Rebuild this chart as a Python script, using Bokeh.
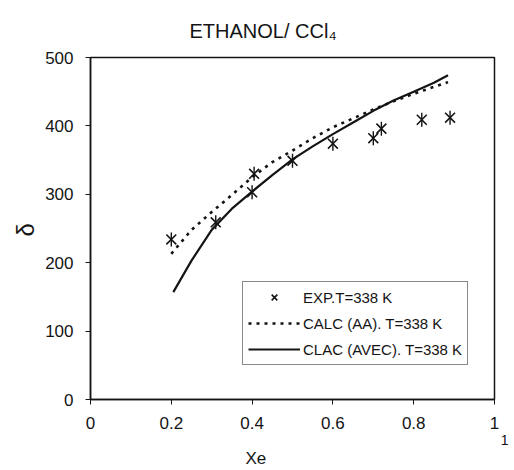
import numpy as np
from bokeh.plotting import figure
from bokeh.models import Legend, LegendItem, FixedTicker, CustomJSTickFormatter, Title
from bokeh.embed import file_html
from bokeh.resources import INLINE

# Experimental points, ethanol / CCl4 at T = 338 K
exp_x = [0.20, 0.31, 0.40, 0.405, 0.50, 0.60, 0.70, 0.72, 0.82, 0.89]
exp_y = [234, 259, 303, 330, 349, 374, 382, 396, 409, 412]

# Calculated curve, AA model
aa_x = [0.20, 0.25, 0.30, 0.35, 0.40, 0.45, 0.50, 0.55, 0.60, 0.65, 0.70, 0.75, 0.80, 0.85, 0.885]
aa_y = [213, 248, 274, 299, 325, 347, 364, 382, 398, 411, 424, 436, 447, 457, 464]

# Calculated curve, AVEC model
avec_x = [0.205, 0.25, 0.30, 0.35, 0.40, 0.45, 0.50, 0.55, 0.60, 0.65, 0.70, 0.75, 0.80, 0.85, 0.885]
avec_y = [157, 203, 248, 279, 304, 328, 351, 370, 388, 405, 422, 437, 450, 463, 474]

x_ticks = [0, 0.2, 0.4, 0.6, 0.8, 1]
y_ticks = [0, 100, 200, 300, 400, 500]

FONT = "Liberation Sans"
INK = "#141414"

p = figure(width=514, height=470, x_range=(0, 1), y_range=(0, 500),
           output_backend="svg", toolbar_location=None,
           min_border_left=90, min_border_right=20,
           min_border_top=57, min_border_bottom=71)
p.grid.visible = False
p.outline_line_color = INK
p.outline_line_width = 1.5
p.background_fill_color = "white"
p.border_fill_color = "white"

for ax in (p.xaxis, p.yaxis):
    ax.axis_line_color = INK
    ax.axis_line_width = 1.5
    ax.major_tick_line_color = INK
    ax.major_tick_out = 5
    ax.major_tick_in = 0
    ax.minor_tick_line_color = None
    ax.major_label_text_font = FONT
    ax.major_label_text_font_size = "17px"
    ax.major_label_text_color = INK

p.xaxis.ticker = FixedTicker(ticks=x_ticks)
p.yaxis.ticker = FixedTicker(ticks=y_ticks)
p.xaxis.formatter = CustomJSTickFormatter(code="return String(tick);")
p.xaxis.major_label_standoff = 12
p.yaxis.major_label_standoff = 12

# curves
r_avec = p.line(avec_x, avec_y, line_color=INK, line_width=2.2)
r_aa = p.line(aa_x, aa_y, line_color=INK, line_width=2.6, line_dash="3 5")
r_exp = p.scatter(exp_x, exp_y, marker="x", size=14, line_color=INK, line_width=1.6)
p.scatter(exp_x, exp_y, marker="dash", angle=np.pi / 2, size=14,
          line_color=INK, line_width=1.4)

legend = Legend(items=[
    LegendItem(label="EXP.T=338 K", renderers=[r_exp]),
    LegendItem(label="CALC (AA). T=338 K", renderers=[r_aa]),
    LegendItem(label="CLAC (AVEC). T=338 K", renderers=[r_avec]),
], location=(152, 34))
legend.label_text_font = FONT
legend.label_text_font_size = "15px"
legend.label_text_color = INK
legend.glyph_width = 52
legend.glyph_height = 20
legend.label_height = 20
legend.label_standoff = 3
legend.spacing = 6
legend.padding = 5
legend.margin = 0
legend.border_line_color = INK
legend.border_line_width = 1.5
legend.background_fill_alpha = 1
p.add_layout(legend, "center")

# chart title
p.title.text = "ETHANOL/ CCl₄"
p.title.align = "left"
p.title.offset = 99
p.title.text_font = FONT
p.title.text_font_size = "20px"
p.title.text_font_style = "normal"
p.title.text_color = INK
p.title.standoff = 32

# axis titles placed as side titles so they can sit off-centre
p.add_layout(Title(text="1", align="right", offset=-14, text_font=FONT,
                   text_font_size="14px", text_font_style="normal",
                   text_color=INK, standoff=2), "below")
p.add_layout(Title(text="Xe", align="left", offset=155, text_font=FONT,
                   text_font_size="17px", text_font_style="normal",
                   text_color=INK, standoff=3), "below")
p.add_layout(Title(text="δ", align="left", offset=163, text_font=FONT,
                   text_font_size="24px", text_font_style="normal",
                   text_color=INK, standoff=8), "left")

open("out.html", "w").write(file_html(p, INLINE))
